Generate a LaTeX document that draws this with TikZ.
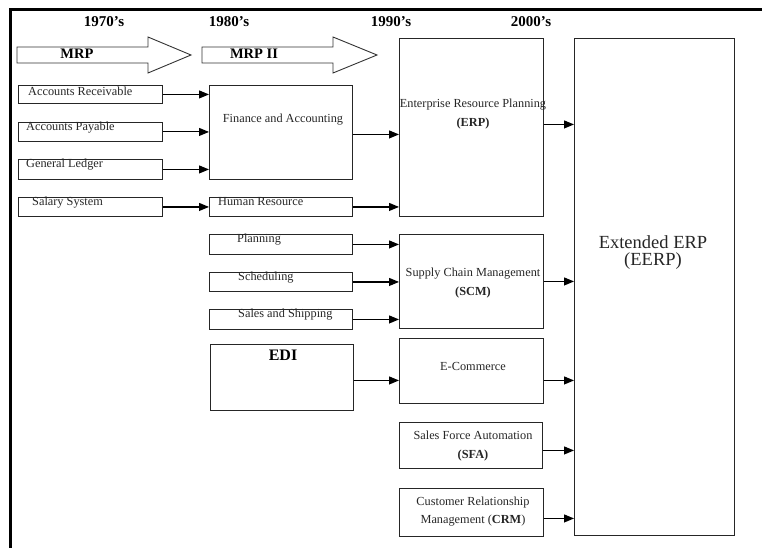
\documentclass[tikz,border=0pt]{standalone}
\usepackage{fontspec}
\setmainfont{Liberation Serif}
\usetikzlibrary{arrows.meta}
\begin{document}
\begin{tikzpicture}[x=1pt,y=-1pt,
  box/.style={draw=black!85,line width=0.9pt,inner sep=0pt,anchor=north west},
  txt/.style={inner sep=0pt,font=\fontsize{12.3}{13}\selectfont,text=black!85},
  yr/.style={inner sep=0pt,font=\fontsize{15}{17}\selectfont\bfseries},
  arr/.style={line width=1.1pt,-{Triangle[length=10pt,width=8pt]}},
  blk/.style={draw=black!80,line width=0.9pt,fill=white}]
\useasboundingbox (0,0) rectangle (762,548);
% frame
\draw[line width=3pt] (10,548) -- (10,10) -- (762,10);
% years
\node[yr] (y70) at (104,22) {1970’s};
\node[yr] (y80) at (229,22) {1980’s};
\node[yr] (y90) at (391,22) {1990’s};
\node[yr] (y00) at (531,22) {2000’s};
% block arrows
\draw[blk] (17,47) -- (148,47) -- (148,37) -- (191,55) -- (148,73) -- (148,63) -- (17,63) -- cycle;
\node[yr,font=\fontsize{14.5}{16}\selectfont\bfseries] (mrp) at (77,54) {MRP};
\draw[blk] (202,47) -- (333,47) -- (333,37) -- (377,55) -- (333,73) -- (333,63) -- (202,63) -- cycle;
\node[yr,font=\fontsize{14.5}{16}\selectfont\bfseries] (mrp2) at (254,54) {MRP II};
% left column
\node[box,minimum width=144,minimum height=18] (ar) at (18,85) {};
\node[txt,anchor=west] (art) at (28,91) {Accounts Receivable};
\node[box,minimum width=144,minimum height=19] (ap) at (18,122) {};
\node[txt,anchor=west] (apt) at (26,128) {Accounts Payable};
\node[box,minimum width=144,minimum height=20] (gl) at (18,159) {};
\node[txt,anchor=west] (glt) at (26,165) {General Ledger};
\node[box,minimum width=144,minimum height=19] (ss) at (18,197) {};
\node[txt,anchor=west] (sst) at (32,203) {Salary System};
% MRP II column
\node[box,minimum width=143,minimum height=94] (fa) at (209,85) {};
\node[txt] (fat) at (283,120) {Finance and Accounting};
\node[box,minimum width=143,minimum height=19] (hr) at (209,197) {};
\node[txt,anchor=west] (hrt) at (218,202) {Human Resource};
\node[box,minimum width=143,minimum height=20] (pl) at (209,234) {};
\node[txt,anchor=west] (plt) at (237,240) {Planning};
\node[box,minimum width=143,minimum height=19] (sc) at (209,272) {};
\node[txt,anchor=west] (sct) at (238,278) {Scheduling};
\node[box,minimum width=143,minimum height=20] (sh) at (209,309) {};
\node[txt,anchor=west] (sht) at (238,315) {Sales and Shipping};
\node[box,minimum width=143,minimum height=66] (edi) at (210,344) {};
\node[yr,font=\fontsize{16}{18}\selectfont\bfseries] (edit) at (283,355) {EDI};
% 1990s column
\node[box,minimum width=144,minimum height=178] (erp) at (399,38) {};
\node[txt,align=center] (erpt) at (473,114) {Enterprise Resource Planning\\[6pt]\textbf{(ERP)}};
\node[box,minimum width=144,minimum height=94] (scm) at (399,234) {};
\node[txt,align=center] (scmt) at (473,283) {Supply Chain Management\\[6pt]\textbf{(SCM)}};
\node[box,minimum width=144,minimum height=65] (ec) at (399,338) {};
\node[txt] (ect) at (473,366) {E-Commerce};
\node[box,minimum width=143,minimum height=46] (sfa) at (399,422) {};
\node[txt,align=center] (sfat) at (473,446) {Sales Force Automation\\[6pt]\textbf{(SFA)}};
\node[box,minimum width=144,minimum height=48] (crm) at (399,488) {};
\node[txt,align=center] (crmt) at (473,512) {Customer Relationship\\[5pt]Management (\textbf{CRM})};
% 2000s
\node[box,minimum width=160,minimum height=497] (eerp) at (574,38) {};
\node[inner sep=0pt,font=\fontsize{18.5}{20}\selectfont,text=black!85] (eerpt1) at (653,242) {Extended ERP};
\node[inner sep=0pt,font=\fontsize{18.5}{20}\selectfont,text=black!85] (eerpt2) at (653,261) {(EERP)};
% arrows
\draw[arr] (ar.east) -- (fa.west |- ar.east);
\draw[arr] (ap.east) -- (fa.west |- ap.east);
\draw[arr] (gl.east) -- (fa.west |- gl.east);
\draw[arr] (ss.east) -- (hr.west |- ss.east);
\draw[arr] ([yshift=-2]fa.east) -- ([yshift=-2]erp.west |- fa.east);
\draw[arr] (hr.east) -- (erp.west |- hr.east);
\draw[arr] (pl.east) -- (scm.west |- pl.east);
\draw[arr] (sc.east) -- (scm.west |- sc.east);
\draw[arr] (sh.east) -- (scm.west |- sh.east);
\draw[arr] ([yshift=-3]edi.east) -- ([yshift=-3]ec.west |- edi.east);
\draw[arr] ([yshift=3]erp.east) -- ([yshift=3]eerp.west |- erp.east);
\draw[arr] (scm.east) -- (eerp.west |- scm.east);
\draw[arr] ([yshift=-3]ec.east |- edi.east) -- ([yshift=-3]eerp.west |- edi.east);
\draw[arr] ([yshift=-5]sfa.east) -- ([yshift=-5]eerp.west |- sfa.east);
\draw[arr] ([yshift=-6]crm.east) -- ([yshift=-6]eerp.west |- crm.east);
\end{tikzpicture}
\end{document}
